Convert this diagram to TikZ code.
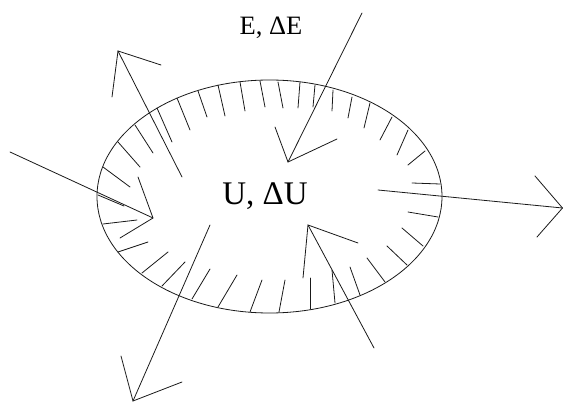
\documentclass[tikz,border=0pt]{standalone}
\usepackage{fontspec}
\setmainfont{Liberation Serif}
\begin{document}
\begin{tikzpicture}[x=1pt,y=-1pt,
  thin line/.style={line width=0.8pt, line cap=round, draw=black!90},
  every node/.style={inner sep=0pt, outer sep=0pt}]
\useasboundingbox (0,0) rectangle (563,403);
% system boundary
\coordinate (C) at (269.5,196.5);
\draw[thin line] (C) ellipse [x radius=172.5pt, y radius=116.5pt];
% hatch marks inside the boundary
\foreach \ax/\ay/\bx/\by in {
 98/195/124/206, 103/167/130/187, 118/142/140/167, 135/125/153/153,
 157/108/172/142, 177/98/190/130, 198/91/207/117, 218/85/225/116,
 240/82/245/111, 260/81/265/107, 278/82/283/108, 300/82/298/108,
 315/85/313/107, 333/90/332/111, 352/97/348/118, 370/103/364/128,
 392/117/380/140, 408/130/397/155, 425/151/408/165, 440/184/412/183,
 438/217/408/212, 423/246/402/228, 407/265/387/246, 385/282/367/258,
 360/295/350/267, 335/303/332/270, 310/309/310/278, 279/312/285/280,
 250/312/262/280, 218/307/237/275, 192/299/210/269, 162/286/185/262,
 142/273/168/252, 118/252/148/242, 103/224/137/220}
 \draw[thin line] (\ax,\ay) -- (\bx,\by);
% labels
\node[anchor=base, font=\fontsize{26.5}{30}\selectfont] (E) at (271,35) {E, ΔE};
\node[anchor=base, font=\fontsize{33}{38}\selectfont] (U) at (265,205) {U, ΔU};
% arrow 1: up-left, outgoing
\coordinate (a1s) at (182,177); \coordinate (a1t) at (118,51);
\coordinate (a1l) at (112,97);  \coordinate (a1r) at (161,65);
% arrow 2: top, incoming
\coordinate (a2s) at (362,13);  \coordinate (a2t) at (288,162);
\coordinate (a2l) at (275,127); \coordinate (a2r) at (337,139);
% arrow 3: left, incoming
\coordinate (a3s) at (10,152);  \coordinate (a3t) at (153,218);
\coordinate (a3l) at (138,177); \coordinate (a3r) at (120,238);
% arrow 4: right, outgoing
\coordinate (a4s) at (378,190); \coordinate (a4t) at (562.5,208);
\coordinate (a4l) at (535,176); \coordinate (a4r) at (537,237);
% arrow 5: bottom-left, outgoing
\coordinate (a5s) at (210,225); \coordinate (a5t) at (133,401);
\coordinate (a5l) at (121,356); \coordinate (a5r) at (182,382);
% arrow 6: bottom-right, incoming
\coordinate (a6s) at (374,348); \coordinate (a6t) at (308,225);
\coordinate (a6l) at (303,278); \coordinate (a6r) at (358,243);
\foreach \i in {1,...,6}{
  \draw[thin line] (a\i s) -- (a\i t);
  \draw[thin line] (a\i l) -- (a\i t) -- (a\i r);
}
\end{tikzpicture}
\end{document}
